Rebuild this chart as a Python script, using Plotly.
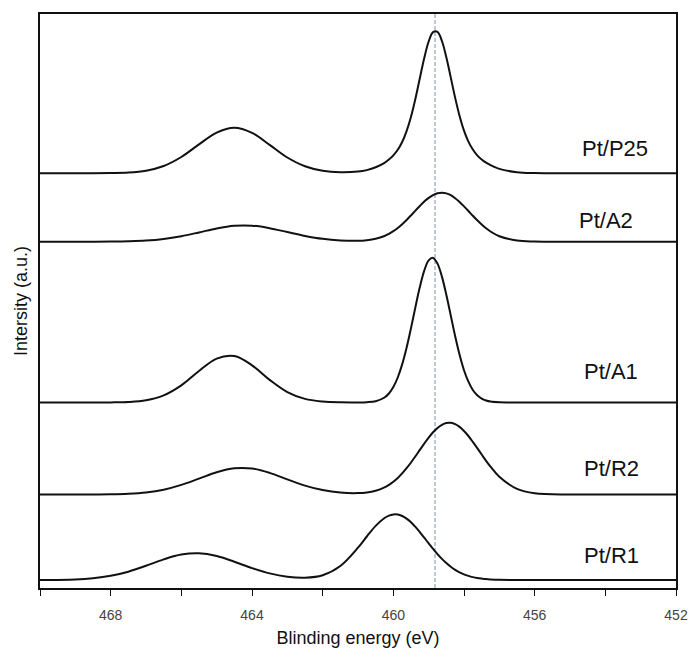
import plotly.graph_objects as go

# Binding energy grid (eV) shared by every spectrum
energy = [470, 469, 468.5, 468, 467.5, 467, 466.5, 466, 465.5, 465, 464.5, 464,
          463.5, 463, 462.5, 462, 461.5, 461, 460.75, 460.5, 460.25, 460.125,
          460, 459.875, 459.75, 459.625, 459.5, 459.375, 459.25, 459.125,
          459, 458.875, 458.75, 458.625, 458.5, 458.375, 458.25, 458.125,
          458, 457.875, 457.75, 457.625, 457.5, 457.375, 457.25, 457,
          456.5, 456, 455, 454, 453, 452]

# Intensity above each spectrum's own baseline (a.u.)
pt_p25 = [0.0, 0.0, 0.0, 0.2, 0.7, 2.6, 7.3, 16.3, 28.9, 40.7, 45.5, 40.4,
          28.4, 15.8, 7.0, 2.5, 1.0, 1.7, 3.2, 6.0, 10.5, 13.7,
          17.9, 23.5, 31.3, 42.2, 56.6, 74.6, 95.0, 115.2,
          131.8, 141.2, 141.4, 132.3, 116.0, 95.9, 75.4, 57.3,
          42.7, 31.7, 23.8, 18.0, 13.8, 10.6, 8.1, 4.4,
          1.1, 0.2, 0.0, 0.0, 0.0, 0.0]
pt_a2 = [0.0, 0.0, 0.0, 0.1, 0.4, 1.1, 2.7, 5.5, 9.3, 13.3, 15.9, 16.0,
         13.5, 9.6, 5.8, 2.9, 1.3, 0.9, 1.5, 2.9, 5.7, 7.9,
         10.5, 13.7, 17.5, 21.7, 26.3, 31.1, 35.7, 40.1,
         43.8, 46.6, 48.4, 49.0, 48.3, 46.5, 43.5, 39.7,
         35.3, 30.7, 25.9, 21.4, 17.2, 13.4, 10.2, 5.5,
         1.2, 0.2, 0.0, 0.0, 0.0, 0.0]
pt_a1 = [0.0, 0.0, 0.0, 0.1, 0.5, 2.2, 7.1, 17.1, 31.5, 43.9, 46.4, 37.2,
         22.6, 10.4, 3.6, 1.0, 0.2, 0.1, 0.3, 1.3, 5.0, 9.0,
         15.5, 25.0, 38.1, 54.8, 74.4, 95.4, 115.4, 131.9,
         142.2, 144.6, 138.9, 125.9, 107.7, 87.0, 66.3, 47.7,
         32.3, 20.8, 12.5, 7.2, 3.9, 2.0, 0.9, 0.2,
         0.0, 0.0, 0.0, 0.0, 0.0, 0.0]
pt_r2 = [0.0, 0.0, 0.1, 0.2, 0.7, 2.0, 4.8, 9.6, 15.9, 22.3, 26.2, 26.0,
         21.6, 15.1, 8.9, 4.4, 1.9, 1.4, 2.0, 3.8, 7.2, 9.7,
         12.8, 16.6, 21.1, 26.3, 32.0, 38.2, 44.6, 50.9,
         56.9, 62.2, 66.6, 69.7, 71.5, 71.7, 70.4, 67.6,
         63.5, 58.5, 52.6, 46.4, 40.0, 33.7, 27.9, 17.8,
         5.6, 1.2, 0.0, 0.0, 0.0, 0.0]
pt_r1 = [0.1, 0.6, 1.8, 4.2, 8.3, 14.2, 20.6, 25.4, 26.7, 24.0, 18.3, 11.9,
         6.6, 3.3, 2.3, 4.8, 14.0, 32.3, 43.5, 54.1, 62.0, 64.4,
         65.6, 65.5, 64.0, 61.4, 57.7, 53.1, 47.9, 42.3,
         36.7, 31.1, 25.9, 21.1, 16.9, 13.2, 10.2, 7.6,
         5.6, 4.1, 2.9, 2.0, 1.4, 0.9, 0.6, 0.2,
         0.0, 0.0, 0.0, 0.0, 0.0, 0.0]

samples = ["Pt/P25", "Pt/A2", "Pt/A1", "Pt/R2", "Pt/R1"]
spectra = [pt_p25, pt_a2, pt_a1, pt_r2, pt_r1]
# Vertical stacking offsets (a.u.)
offsets = [414.7, 346.3, 185.5, 93.5, 8.0]

# Reference binding energy marked by the dashed line (eV)
reference_energy = 458.82

tick_values = [470, 468, 466, 464, 462, 460, 458, 456, 454, 452]
tick_labels = ["", "468", "", "464", "", "460", "", "456", "", "452"]

FONT = "Liberation Sans, Arial, sans-serif"

fig = go.Figure()

for name, values, base in zip(samples, spectra, offsets):
    fig.add_trace(go.Scatter(
        x=energy,
        y=[base + v for v in values],
        mode="lines",
        name=name,
        line=dict(color="#111111", width=2, shape="spline", smoothing=1.0),
        showlegend=False,
        hoverinfo="skip",
    ))

fig.add_shape(
    type="line", xref="x", yref="y domain",
    x0=reference_energy, x1=reference_energy, y0=0, y1=1,
    line=dict(color="#7f8db0", width=1, dash="4px,2px"),
    layer="below",
)

# Sample labels placed at the right-hand side of each spectrum
label_x = [453.74, 453.97, 453.85, 453.83, 453.83]
label_y = [440, 368, 217, 120, 33]
for name, lx, ly in zip(samples, label_x, label_y):
    fig.add_annotation(
        x=lx, y=ly, xref="x", yref="y", text=name, showarrow=False,
        xanchor="center", yanchor="middle",
        font=dict(family=FONT, size=22, color="#111111"),
    )

fig.update_layout(
    width=700, height=657,
    margin=dict(l=40, r=14, t=14, b=69),
    paper_bgcolor="white", plot_bgcolor="white",
    showlegend=False,
)

fig.update_xaxes(
    range=[470, 452],
    tickmode="array", tickvals=tick_values, ticktext=tick_labels,
    ticks="outside", ticklen=6, tickwidth=1, tickcolor="#111111",
    ticklabelstandoff=7,
    tickfont=dict(family=FONT, size=14, color="#444444"),
    showline=True, linecolor="#111111", linewidth=2, mirror=True,
    showgrid=False, zeroline=False,
    title=dict(text="Blinding energy (eV)",
               font=dict(family=FONT, size=18, color="#111111"),
               standoff=10),
)

fig.update_yaxes(
    range=[0, 574],
    showticklabels=False, ticks="",
    showline=True, linecolor="#111111", linewidth=2, mirror=True,
    showgrid=False, zeroline=False,
    title=dict(text="Intersity (a.u.)",
               font=dict(family=FONT, size=18, color="#111111"),
               standoff=6),
)

fig.write_html("out.html")
